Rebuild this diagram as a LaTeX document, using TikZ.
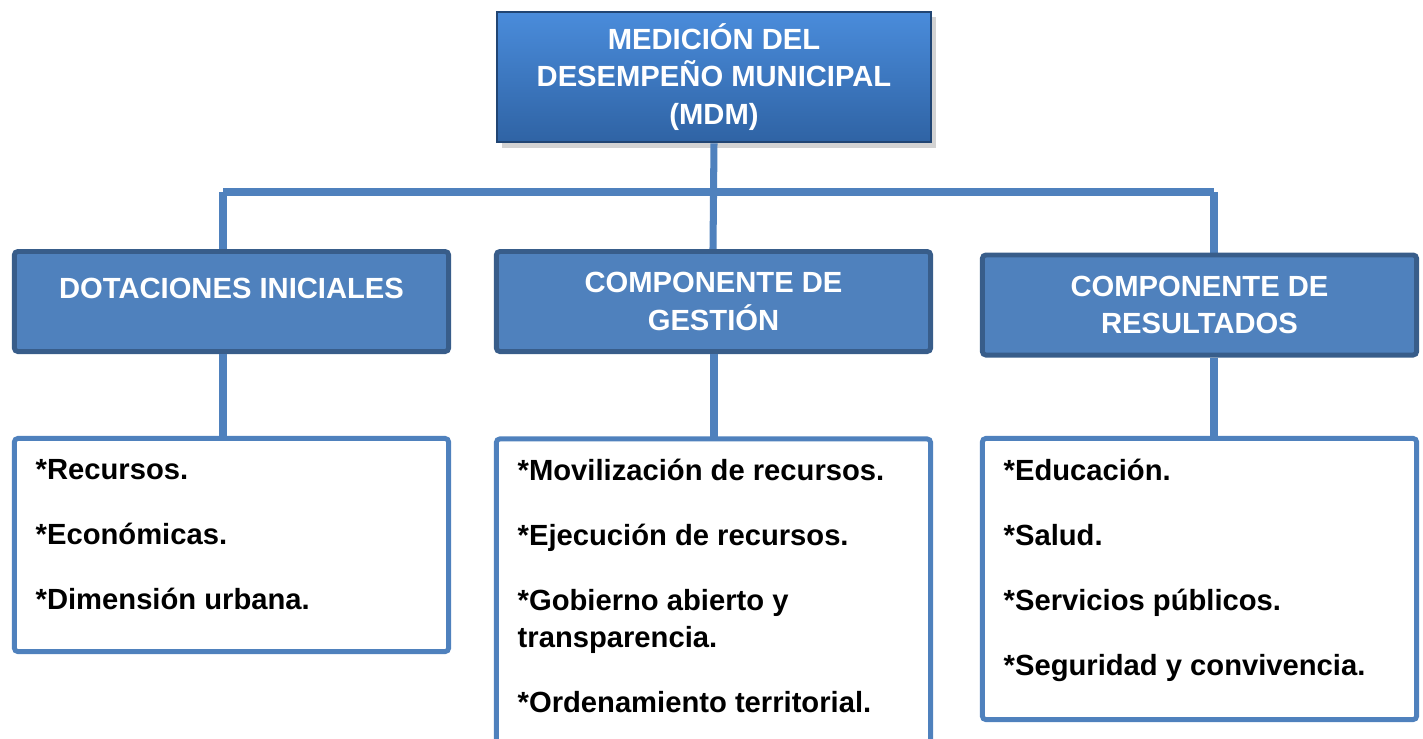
\documentclass[tikz,border=0pt]{standalone}
\usepackage{fontspec}
\setmainfont{Liberation Sans}
\usetikzlibrary{shadows}
\definecolor{mdmblue}{HTML}{4F81BD}
\definecolor{mdmdark}{HTML}{385D8A}
\definecolor{mdmtop}{HTML}{4A8CDB}
\definecolor{mdmbot}{HTML}{2F63A4}
\begin{document}
\begin{tikzpicture}[x=0.01cm, y=-0.01cm,
    boxtxt/.style={font=\fontsize{8.3}{10.7}\selectfont\bfseries},
    topbox/.style={boxtxt, draw=mdmbot!70!black, line width=0.6pt, top color=mdmtop, bottom color=mdmbot,
        text=white, align=center, minimum width=4.34cm, minimum height=1.28cm,
        drop shadow={shadow xshift=1.5pt, shadow yshift=-1.5pt, opacity=0.35}},
    headbox/.style={boxtxt, draw=mdmdark, line width=1.4pt, fill=mdmblue, rounded corners=1pt,
        text=white, align=center, minimum width=4.34cm, minimum height=1.0cm},
    listbox/.style={draw=mdmblue, line width=1.4pt, fill=white, rounded corners=1pt, minimum width=4.34cm},
    listtxt/.style={boxtxt, anchor=north west, align=left, inner sep=0pt},
    link/.style={draw=mdmblue, line width=2pt}]
    \useasboundingbox (0,0) rectangle (1423,738);
    \coordinate (busl) at (223,192);
    \coordinate (busr) at (1214,192);
    \node [topbox] (mdm) at (714,77) {MEDICIÓN DEL\\DESEMPEÑO MUNICIPAL\\(MDM)};
    \draw [link] (busl) -- (busr);
    \draw [link] (mdm.south) -- (713,249);
    \draw [link] (busl) -- (223,249);
    \draw [link] (busr) -- (1214,253);
    \node [headbox, text depth=7.7pt] (dot) at (231.5,301.5) {DOTACIONES INICIALES};
    \node [headbox] (ges) at (713.5,301.5) {COMPONENTE DE\\GESTIÓN};
    \node [headbox] (res) at (1199.5,305) {COMPONENTE DE\\RESULTADOS};
    \draw [link] (busl |- dot.south) -- (223,437);
    \draw [link] (mdm.south |- ges.south) -- (714,437);
    \draw [link] (busr |- res.south) -- (1214,437);
    \node [listbox, minimum height=2.13cm] (rec) at (231.5,545) {};
    \node [listbox, minimum height=3.4cm] (mov) at (713.5,609) {};
    \node [listbox, minimum height=2.81cm] (edu) at (1199.5,579) {};
    \node [listtxt] (rectxt) at (35,459) {*Recursos.\\[7.8pt]*Económicas.\\[7.8pt]*Dimensión urbana.};
    \node [listtxt] (movtxt) at (517,458) {*Movilización de recursos.\\[7.8pt]*Ejecución de recursos.\\[7.8pt]*Gobierno abierto y\\transparencia.\\[7.8pt]*Ordenamiento territorial.};
    \node [listtxt] (edutxt) at (1003,458) {*Educación.\\[7.8pt]*Salud.\\[7.8pt]*Servicios públicos.\\[7.8pt]*Seguridad y convivencia.};
\end{tikzpicture}
\end{document}
